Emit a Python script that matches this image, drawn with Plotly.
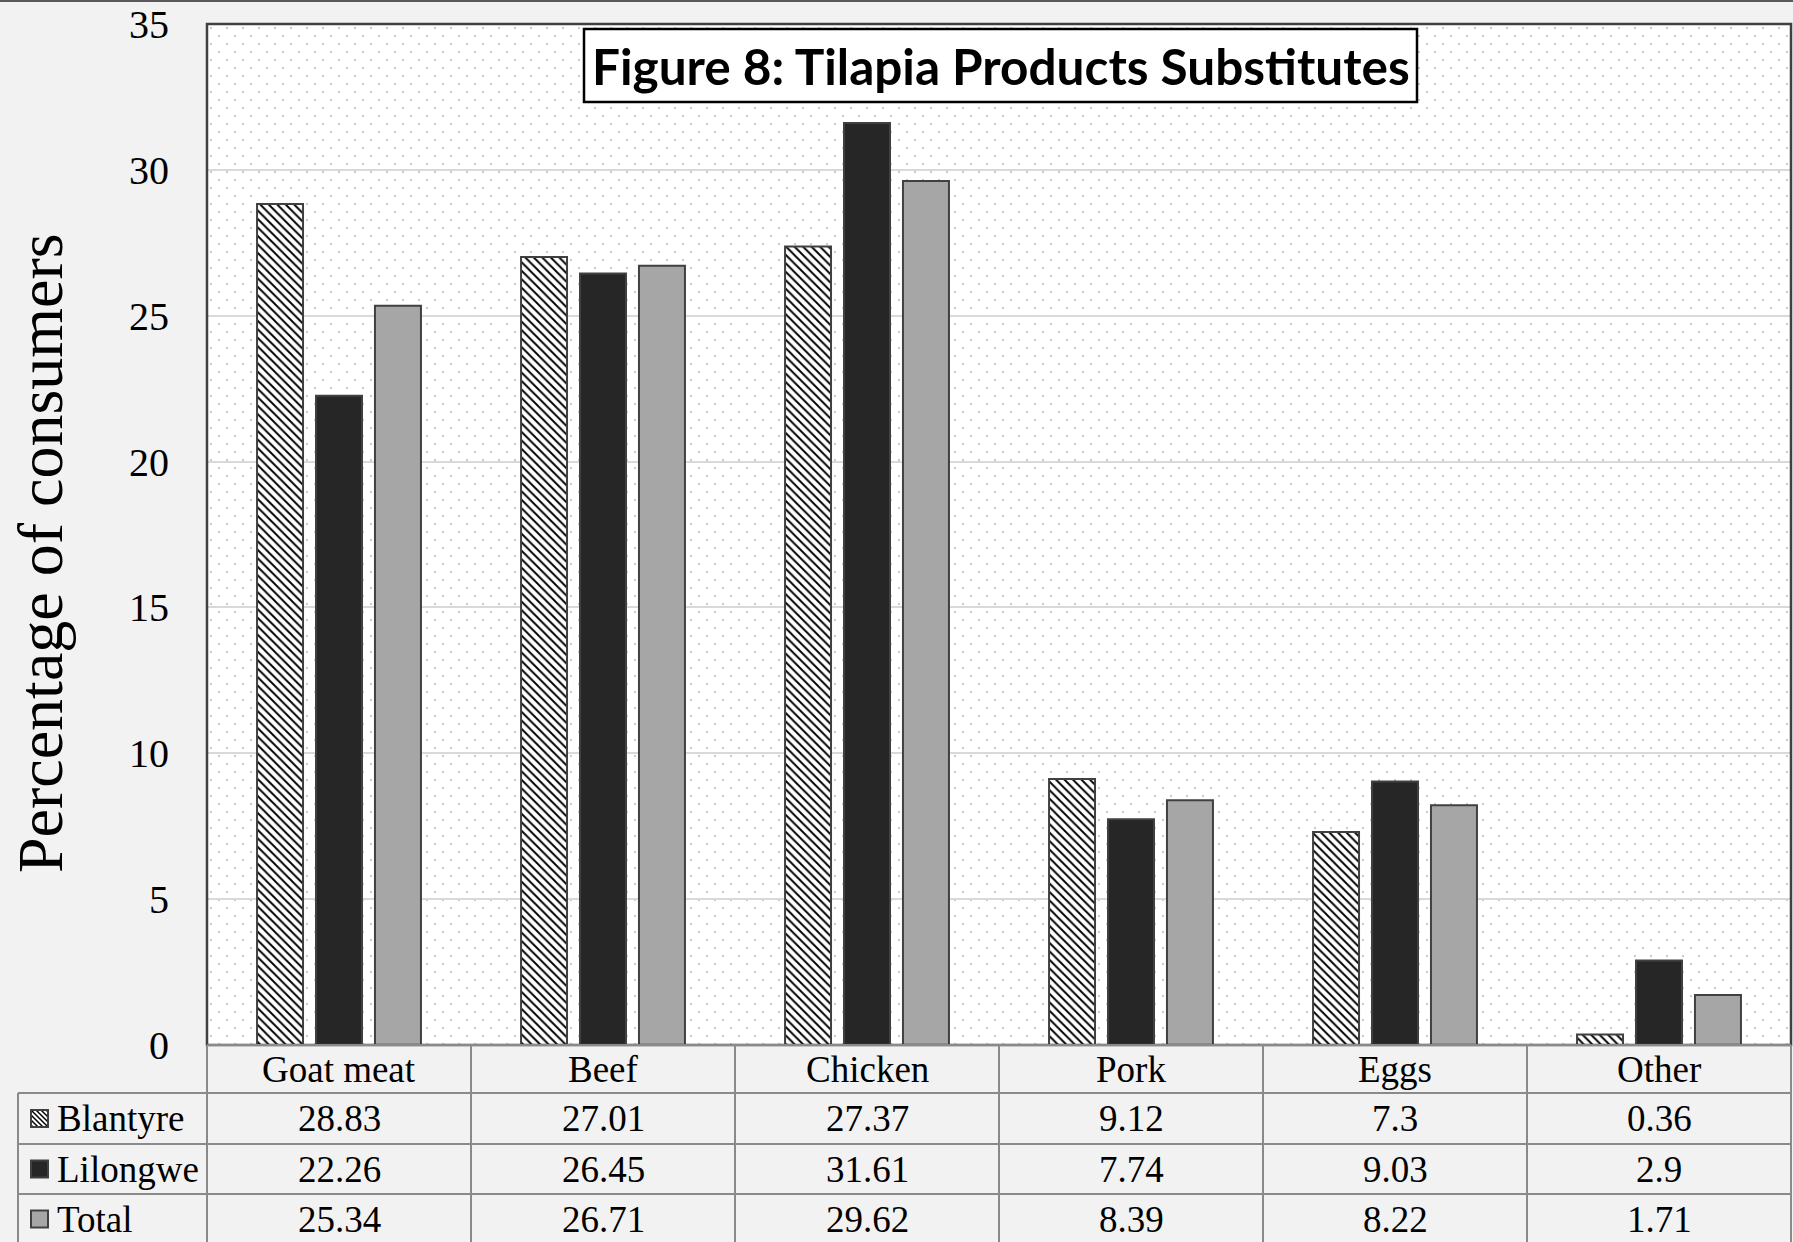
import base64
import plotly.graph_objects as go

# Substitute products named by consumers (percent of respondents)
categories = ["Goat meat", "Beef", "Chicken", "Pork", "Eggs", "Other"]
blantyre = [28.83, 27.01, 27.37, 9.12, 7.3, 0.36]
lilongwe = [22.26, 26.45, 31.61, 7.74, 9.03, 2.9]
total = [25.34, 26.71, 29.62, 8.39, 8.22, 1.71]
series_names = ["Blantyre", "Lilongwe", "Total"]
y_ticks = [0, 5, 10, 15, 20, 25, 30, 35]

W, H = 1793, 1242
PL, PR, PT, PB = 207, 1791, 24, 1045  # plot area edges in pixels

SERIF = "Liberation Serif, Times New Roman, serif"
EDGE = "#404040"
GRIDC = "#d9d9d9"
TABLE_LINE = "#8a8a8a"


def px(x):
    return (x - PL) / (PR - PL)


def py(y):
    return (PB - y) / (PB - PT)


def svg_uri(svg):
    return "data:image/svg+xml;base64," + base64.b64encode(svg.encode()).decode()


fig = go.Figure()

fig.add_trace(go.Bar(
    name=series_names[0], x=categories, y=blantyre,
    marker=dict(color="white", line=dict(color=EDGE, width=2),
                pattern=dict(shape="\\", fgcolor="black", bgcolor="white",
                             size=6, solidity=0.32, fillmode="replace")),
))
fig.add_trace(go.Bar(
    name=series_names[1], x=categories, y=lilongwe,
    marker=dict(color="#262626", line=dict(color=EDGE, width=2)),
))
fig.add_trace(go.Bar(
    name=series_names[2], x=categories, y=total,
    marker=dict(color="#a6a6a6", line=dict(color=EDGE, width=2)),
))

# Dotted fill behind the bars
pw, ph = PR - PL, PB - PT
dots_svg = (
    f"<svg xmlns='http://www.w3.org/2000/svg' width='{pw}' height='{ph}'>"
    "<defs><pattern id='d' width='16' height='16' patternUnits='userSpaceOnUse'>"
    "<rect x='3' y='3' width='2' height='2' fill='#cacaca'/>"
    "<rect x='11' y='11' width='2' height='2' fill='#cacaca'/>"
    "</pattern></defs>"
    "<rect width='100%' height='100%' fill='white'/>"
    "<rect width='100%' height='100%' fill='url(#d)'/></svg>"
)
images = [dict(source=svg_uri(dots_svg), xref="paper", yref="paper", x=0, y=1,
               sizex=1, sizey=1, sizing="stretch", xanchor="left", yanchor="top",
               layer="below")]

shapes = []
annotations = []

# Frame lines
shapes.append(dict(type="line", xref="paper", yref="paper", x0=px(0), x1=px(W),
                   y0=py(1), y1=py(1), line=dict(color="#5a5a5a", width=2)))
shapes.append(dict(type="rect", xref="paper", yref="paper", x0=0, x1=1, y0=0, y1=1,
                   line=dict(color=EDGE, width=2.5)))

# Data table under the chart
row_edges = [1045, 1093, 1144, 1194, 1250]
LEFT = 18
shapes.append(dict(type="line", xref="paper", yref="paper", x0=0, x1=1,
                   y0=py(row_edges[0]), y1=py(row_edges[0]),
                   line=dict(color=TABLE_LINE, width=2)))
for ye in row_edges[1:4]:
    shapes.append(dict(type="line", xref="paper", yref="paper", x0=px(LEFT), x1=1,
                       y0=py(ye), y1=py(ye), line=dict(color=TABLE_LINE, width=2)))
n = len(categories)
for i in range(n + 1):
    shapes.append(dict(type="line", xref="paper", yref="paper", x0=i / n, x1=i / n,
                       y0=py(row_edges[0]), y1=py(row_edges[-1]),
                       line=dict(color=TABLE_LINE, width=2)))
shapes.append(dict(type="line", xref="paper", yref="paper", x0=px(LEFT), x1=px(LEFT),
                   y0=py(row_edges[1]), y1=py(row_edges[-1]),
                   line=dict(color=TABLE_LINE, width=2)))

cell_font = dict(family=SERIF, size=37, color="black")
for c in categories:
    annotations.append(dict(x=c, xref="x", y=py((row_edges[0] + row_edges[1]) / 2),
                            yref="paper", text=c, showarrow=False, font=cell_font,
                            xanchor="center", yanchor="middle"))

rows = [blantyre, lilongwe, total]
for r, vals in enumerate(rows):
    yc = py((row_edges[r + 1] + row_edges[r + 2]) / 2) if r < 2 else py(1219)
    for c, v in zip(categories, vals):
        annotations.append(dict(x=c, xref="x", y=yc, yref="paper", text=f"{v:g}",
                                showarrow=False, font=cell_font,
                                xanchor="center", yanchor="middle"))
    annotations.append(dict(x=px(55), xref="paper", y=yc, yref="paper",
                            text=series_names[r], showarrow=False, font=cell_font,
                            xanchor="left", yanchor="middle"))

# Legend keys in the first table column
KEY = 19
KX0 = 30
hatch_svg = (
    f"<svg xmlns='http://www.w3.org/2000/svg' width='{KEY}' height='{KEY}'>"
    "<defs><pattern id='h' width='5' height='5' patternUnits='userSpaceOnUse'>"
    "<path d='M-1,-1 L6,6 M-1,4 L1,6 M4,-1 L6,1' stroke='black' stroke-width='1.5'/>"
    "</pattern></defs>"
    f"<rect width='{KEY}' height='{KEY}' fill='white'/>"
    f"<rect width='{KEY}' height='{KEY}' fill='url(#h)'/>"
    f"<rect x='1' y='1' width='{KEY-2}' height='{KEY-2}' fill='none' stroke='{EDGE}' stroke-width='2'/>"
    "</svg>"
)
key_centers = [1118.5, 1169, 1219]
images.append(dict(source=svg_uri(hatch_svg), xref="paper", yref="paper",
                   x=px(KX0), y=py(key_centers[0] - KEY / 2),
                   sizex=px(KX0 + KEY) - px(KX0), sizey=KEY / (PB - PT),
                   sizing="stretch", xanchor="left", yanchor="top", layer="above"))
for yc, fill in zip(key_centers[1:], ["#262626", "#a6a6a6"]):
    shapes.append(dict(type="rect", xref="paper", yref="paper",
                       x0=px(KX0 + 1), x1=px(KX0 + KEY - 1),
                       y0=py(yc - KEY / 2 + 1), y1=py(yc + KEY / 2 - 1),
                       fillcolor=fill, line=dict(color=EDGE, width=2)))

# Title box
shapes.append(dict(type="rect", xref="paper", yref="paper", x0=px(584), x1=px(1417),
                   y0=py(29), y1=py(102), fillcolor="white",
                   line=dict(color="black", width=2.5)))
annotations.append(dict(x=px(1000.5), y=py(66), xref="paper", yref="paper",
                        text="<b>Figure 8: Tilapia Products Substitutes</b>",
                        showarrow=False, xanchor="center", yanchor="middle",
                        font=dict(family="Lato, Open Sans, sans-serif", size=49.5,
                                  color="black")))

# Y axis title
annotations.append(dict(x=px(40), y=py(553), xref="paper", yref="paper",
                        text="Percentage of consumers", textangle=-90,
                        showarrow=False, xanchor="center", yanchor="middle",
                        font=dict(family=SERIF, size=64, color="black")))

fig.update_layout(
    width=W, height=H, autosize=False,
    margin=dict(l=PL, r=W - PR, t=PT, b=H - PB, pad=0),
    paper_bgcolor="#f2f2f2", plot_bgcolor="white",
    barmode="group", bargap=0.33, bargroupgap=0.22,
    showlegend=False,
    shapes=shapes, annotations=annotations, images=images,
    xaxis=dict(showticklabels=False, showgrid=False, zeroline=False,
               showline=False, ticks="", range=[-0.5, n - 0.5], fixedrange=True),
    yaxis=dict(range=[0, 35], tickvals=y_ticks, showgrid=True, gridcolor=GRIDC,
               gridwidth=2, zeroline=False, showline=False, ticks="",
               ticklabelstandoff=37,
               tickfont=dict(family=SERIF, size=40, color="black"),
               fixedrange=True),
    hovermode=False,
)

fig.write_html("out.html")
